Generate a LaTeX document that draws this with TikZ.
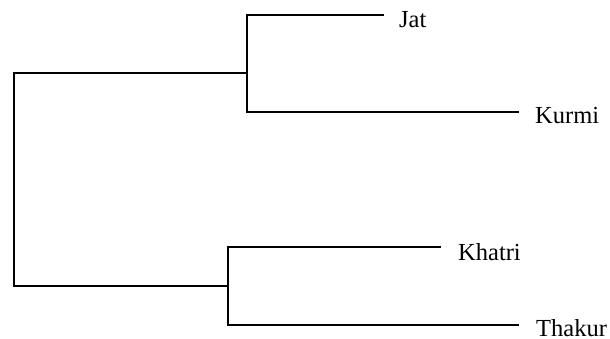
\documentclass[tikz,border=0pt]{standalone}
\usepackage{fontspec}
\setmainfont{Liberation Serif}
\begin{document}
\begin{tikzpicture}[x=1pt,y=-1pt,
  branch/.style={line width=1.2pt,line cap=rect},
  leaf/.style={anchor=base west,inner sep=0pt,font=\fontsize{24.5}{29}\selectfont}]
\useasboundingbox (0,0) rectangle (610,339);
% joins
\coordinate (root) at (14,73);
\coordinate (rootb) at (14,286);
\coordinate (u) at (247,73);
\coordinate (ut) at (247,15);
\coordinate (ub) at (247,112);
\coordinate (l) at (228,286);
\coordinate (lt) at (228,247);
\coordinate (lb) at (228,325);
\coordinate (jatE) at (383,15);
\coordinate (kurE) at (518,112);
\coordinate (khaE) at (440,247);
\coordinate (thaE) at (518,325);
% labels
\node[leaf] (jat) at (399,27.5) {Jat};
\node[leaf] (kurmi) at (535,124) {Kurmi};
\node[leaf] (khatri) at (458,260) {Khatri};
\node[leaf] (thakur) at (536,336.5) {Thakur};
% tree
\draw[branch] (u) -- (root) -- (rootb) -- (l);
\draw[branch] (jatE) -- (ut) -- (ub) -- (kurE);
\draw[branch] (khaE) -- (lt) -- (lb) -- (thaE);
\end{tikzpicture}
\end{document}
